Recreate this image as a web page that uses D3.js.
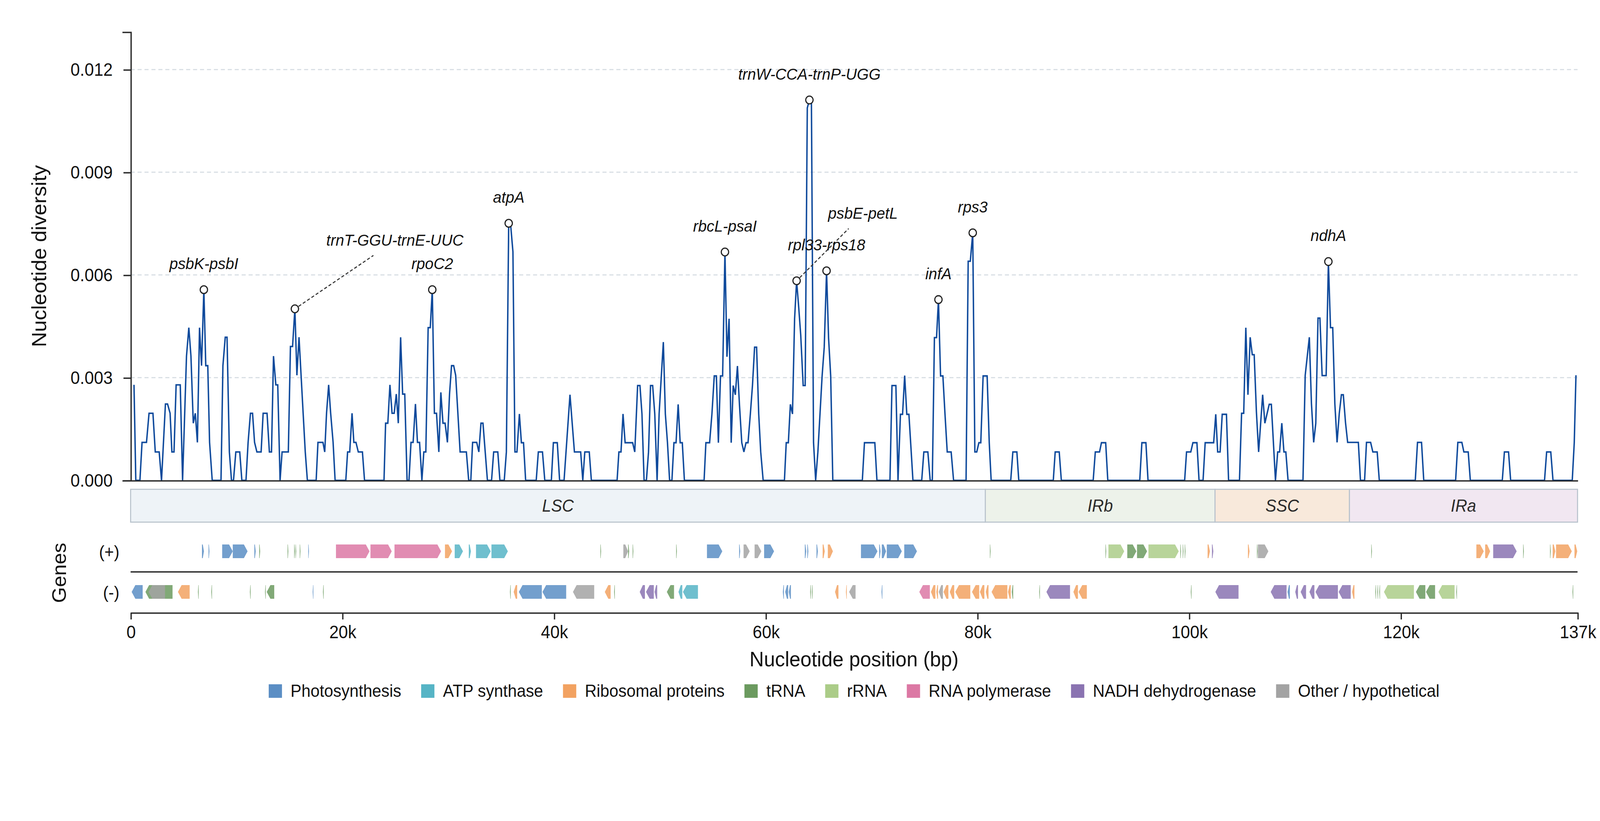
<!DOCTYPE html>
<html>
<head>
<meta charset="utf-8">
<script src="https://cdn.jsdelivr.net/npm/d3@7"></script>
<style>
  html, body { margin: 0; padding: 0; background: #fff; overflow: hidden; }
  svg { display: block; width: 100vw; height: 100vh; font-family: "Liberation Sans", Arial, sans-serif; }
</style>
</head>
<body>
<svg id="chart"></svg>
<script>
// Sliding-window nucleotide diversity: window position (kb) and Pi (x 1e-3)
const windowPos = [
  0.32, 0.49, 0.88, 1.08, 1.50, 1.74, 2.11, 2.33, 2.70, 2.92, 3.29, 3.49, 3.73, 3.90, 4.10, 4.30, 4.69, 4.91,
  5.28, 5.50, 5.70, 5.92, 6.11, 6.31, 6.51, 6.70, 6.92, 7.10, 7.29, 7.46, 7.71, 8.54, 8.72, 8.94, 9.11, 9.33,
  9.53, 9.72, 9.94, 10.31, 10.51, 10.90, 11.10, 11.32, 11.52, 11.71, 11.93, 12.33, 12.52, 12.89, 13.11, 13.31,
  13.50, 13.72, 13.90, 14.12, 14.31, 14.90, 15.10, 15.30, 15.52, 15.71, 15.91, 16.30, 16.50, 16.70, 17.53, 17.70,
  18.17, 18.34, 18.51, 18.71, 18.90, 19.13, 19.32, 20.33, 20.50, 20.70, 20.92, 21.09, 21.29, 21.51, 21.90, 22.10,
  23.94, 24.09, 24.30, 24.50, 24.70, 24.90, 25.10, 25.29, 25.51, 25.70, 25.90, 26.12, 26.30, 26.49, 26.69, 26.91,
  27.10, 27.30, 27.52, 27.70, 27.89, 28.11, 28.31, 28.50, 28.70, 28.90, 29.12, 29.31, 29.51, 29.71, 29.93, 30.13,
  30.32, 30.52, 30.71, 31.13, 31.72, 31.94, 32.14, 32.31, 32.70, 32.90, 33.10, 33.29, 33.71, 34.10, 34.30, 34.69,
  34.89, 35.30, 35.50, 35.72, 35.92, 36.12, 36.31, 36.50, 36.73, 36.92, 37.12, 37.32, 38.32, 38.52, 38.91, 39.13,
  39.75, 39.94, 40.31, 40.53, 40.95, 41.51, 41.93, 42.52, 42.72, 42.91, 43.33, 43.53, 45.96, 46.13, 46.33, 46.52,
  46.72, 47.43, 47.63, 47.90, 48.12, 48.31, 48.51, 48.73, 48.93, 49.12, 49.32, 49.52, 49.74, 49.93, 50.13, 50.33,
  50.52, 50.72, 50.92, 51.14, 51.33, 51.53, 51.73, 51.92, 52.12, 52.32, 54.18, 54.35, 54.70, 54.92, 55.14, 55.34,
  55.53, 55.73, 55.93, 56.15, 56.34, 56.54, 56.74, 56.93, 57.13, 57.33, 57.52, 57.74, 57.94, 58.14, 58.33, 58.55,
  58.75, 58.95, 59.14, 59.34, 59.53, 59.76, 61.77, 61.94, 62.14, 62.33, 62.53, 62.73, 62.92, 63.12, 63.31, 63.54,
  63.73, 63.93, 64.13, 64.32, 64.52, 64.72, 64.93, 65.33, 65.53, 65.75, 65.94, 66.14, 66.34, 69.13, 69.33, 70.31,
  70.51, 71.74, 71.93, 72.30, 72.50, 72.73, 72.93, 73.13, 73.33, 73.53, 73.73, 73.91, 74.74, 74.94, 75.32, 75.54,
  75.74, 75.94, 76.14, 76.32, 76.52, 76.74, 76.94, 77.15, 77.52, 77.75, 78.93, 79.13, 79.33, 79.56, 79.76, 79.94,
  80.14, 80.32, 80.54, 80.92, 81.12, 81.30, 83.15, 83.35, 83.73, 83.91, 87.17, 87.35, 87.73, 87.93, 90.94, 91.14,
  91.54, 91.72, 92.12, 92.32, 95.34, 95.54, 95.92, 96.12, 99.58, 99.76, 100.16, 100.36, 100.74, 100.94, 101.32, 101.52,
  102.32, 102.52, 102.70, 102.93, 103.13, 103.53, 103.73, 104.76, 104.96, 105.16, 105.36, 105.56, 105.77, 105.97, 106.15, 106.36,
  106.57, 106.95, 107.16, 107.57, 107.77, 108.16, 108.37, 108.55, 108.76, 108.96, 109.14, 109.35, 110.76, 110.97, 111.36, 111.56,
  111.77, 111.97, 112.18, 112.36, 112.57, 112.95, 113.16, 113.36, 113.57, 113.77, 113.98, 114.19, 114.39, 114.57, 114.78, 114.98,
  115.99, 116.19, 116.58, 116.76, 117.15, 117.36, 117.77, 117.97, 121.37, 121.58, 121.96, 122.17, 125.18, 125.39, 125.77, 125.96,
  126.37, 126.57, 129.59, 129.79, 130.18, 130.38, 133.58, 133.78, 134.17, 134.38, 136.20, 136.39, 136.55
];
const piValues = [
  2.79, 0, 0, 1.11, 1.11, 1.96, 1.96, 0.83, 0.83, 0, 2.23, 2.23, 1.96, 0.83, 0.83, 2.79, 2.79, 0,
  3.63, 4.46, 3.63, 1.67, 1.96, 1.11, 4.46, 3.35, 5.57, 3.35, 3.35, 1.11, 0, 0, 3.35, 4.18, 4.18, 0.83,
  0, 0, 0.83, 0.83, 0, 0, 1.11, 1.96, 1.96, 1.11, 0.83, 0.83, 1.96, 1.96, 0.83, 0.83,
  3.63, 2.79, 2.79, 0, 0.83, 0.83, 3.91, 3.91, 5.01, 3.07, 4.18, 1.96, 0.83, 0, 0, 1.11,
  1.11, 0.83, 1.96, 2.79, 1.96, 1.11, 0, 0, 0.83, 0.83, 1.96, 1.11, 1.11, 0.83, 0.83, 0,
  0, 1.67, 1.67, 2.79, 1.96, 1.96, 2.52, 1.67, 4.18, 2.52, 2.52, 0, 0, 1.11, 1.11, 2.23,
  1.11, 1.11, 0, 0.83, 0.83, 4.46, 4.46, 5.57, 1.96, 1.96, 0.83, 2.57, 1.67, 1.67, 1.11, 2.52,
  3.35, 3.35, 3.07, 0.83, 0.83, 0, 0, 1.11, 1.11, 0.83, 1.67, 1.67, 0, 0, 0.83, 0.83,
  0, 0, 0.83, 7.51, 7.40, 6.68, 0.83, 0.83, 1.94, 1.10, 1.10, 0, 0, 0.83, 0.83, 0,
  0, 1.10, 1.10, 0, 0, 2.50, 0.83, 0.83, 0, 0.83, 0.83, 0, 0, 0.83, 0.83, 1.94,
  1.10, 1.10, 0.83, 2.77, 2.77, 1.94, 0, 0, 0.83, 2.77, 2.77, 1.94, 0, 1.94, 3.00, 4.04,
  1.94, 1.10, 0, 0, 1.10, 1.10, 2.22, 1.10, 1.10, 0, 0, 1.10, 1.10, 1.94, 3.05, 3.05,
  1.10, 3.05, 3.05, 6.67, 3.61, 4.72, 1.10, 2.77, 2.50, 3.34, 2.22, 1.10, 0.83, 1.10, 1.10, 1.94,
  2.77, 3.89, 3.89, 1.94, 0.83, 0, 0, 1.10, 1.10, 2.22, 1.94, 4.72, 5.83, 5.05, 4.24, 2.77,
  2.77, 10.88, 11.11, 11.05, 1.10, 0, 0.83, 3.05, 3.89, 6.12, 4.16, 3.05, 0, 0, 1.10, 1.10,
  0, 0, 2.77, 2.77, 0, 1.93, 1.93, 3.06, 1.93, 1.93, 0.92, 0, 0, 0.83, 0.83, 0,
  0, 4.17, 4.17, 5.28, 3.05, 3.05, 1.93, 0.83, 0.83, 0, 0, 6.40, 6.40, 7.23, 0.83, 0.83,
  1.10, 1.10, 3.05, 3.05, 1.10, 0, 0, 0.83, 0.83, 0, 0, 0.83, 0.83, 0, 0, 0.83,
  0.83, 1.10, 1.10, 0, 0, 1.10, 1.10, 0, 0, 0.83, 0.83, 1.10, 1.10, 0, 0, 1.10,
  1.10, 1.93, 0.83, 0.83, 1.93, 1.93, 0, 0, 1.96, 1.96, 4.46, 2.50, 4.18, 3.67, 3.67, 2.00,
  0.83, 2.50, 1.67, 2.22, 2.22, 0, 0.83, 0.83, 1.67, 0.83, 0.83, 0, 0, 3.07, 4.18, 2.24,
  1.11, 1.67, 4.74, 4.74, 3.06, 3.06, 6.39, 4.46, 4.46, 2.24, 1.11, 1.96, 2.50, 2.50, 1.68, 1.11,
  1.11, 0, 0, 1.11, 1.11, 0.83, 0.83, 0, 0, 1.11, 1.11, 0, 0, 1.11, 1.11, 0.83,
  0.83, 0, 0, 0.83, 0.83, 0, 0, 0.83, 0.83, 0, 0, 1.11, 3.07
];

// Highlighted hotspots (kb)
const peakLabels = ['psbK-psbI', 'trnT-GGU-trnE-UUC', 'rpoC2', 'atpA', 'rbcL-psaI', 'psbE-petL',
  'trnW-CCA-trnP-UGG', 'rpl33-rps18', 'infA', 'rps3', 'ndhA'];
const peakPos = [6.92, 15.52, 28.50, 35.72, 56.15, 62.92, 64.13, 65.75, 76.32, 79.56, 113.16];

// Genome regions (bp)
const regionNames = ['LSC', 'IRb', 'SSC', 'IRa'];
const regionBounds = [0, 80750, 102450, 115150, 136700];

// Axis ticks
const xTickValues = [0, 20000, 40000, 60000, 80000, 100000, 120000, 136700];
const xTickLabels = ['0', '20k', '40k', '60k', '80k', '100k', '120k', '137k'];
const yTickValues = [0, 0.003, 0.006, 0.009, 0.012];

// Gene categories
const catKeys = ['photo', 'atp', 'ribo', 'trna', 'rrna', 'rpo', 'ndh', 'other'];
const catLabels = ['Photosynthesis', 'ATP synthase', 'Ribosomal proteins', 'tRNA', 'rRNA',
  'RNA polymerase', 'NADH dehydrogenase', 'Other / hypothetical'];

// Genes on the (+) strand: [start kb, end kb, category]
const plusGenes = [
  [6.74, 6.93, 'photo'], [7.36, 7.45, 'photo'], [8.65, 9.65, 'photo'], [9.65, 11.05, 'photo'],
  [11.69, 11.82, 'photo'], [12.15, 12.24, 'trna'], [14.83, 14.90, 'trna'], [15.45, 15.52, 'trna'],
  [15.58, 15.64, 'trna'], [15.98, 16.04, 'trna'], [16.78, 16.84, 'photo'], [19.40, 22.57, 'rpo'],
  [22.66, 24.67, 'rpo'], [24.93, 29.33, 'rpo'], [29.70, 30.37, 'ribo'], [30.62, 31.40, 'atp'],
  [31.95, 32.15, 'atp'], [32.63, 34.02, 'atp'], [34.09, 35.64, 'atp'], [44.38, 44.44, 'trna'],
  [46.55, 47.00, 'other'], [47.00, 47.10, 'trna'], [47.43, 47.49, 'trna'], [51.54, 51.60, 'trna'],
  [54.45, 55.90, 'photo'], [57.49, 57.59, 'photo'], [57.91, 58.49, 'other'], [58.95, 59.59, 'other'],
  [59.85, 60.79, 'photo'], [63.70, 63.83, 'photo'], [63.93, 64.03, 'photo'], [64.80, 64.93, 'photo'],
  [65.38, 65.58, 'ribo'], [65.87, 66.35, 'ribo'], [69.00, 70.56, 'photo'], [70.72, 70.85, 'photo'],
  [70.97, 71.37, 'photo'], [71.44, 72.86, 'photo'], [73.09, 74.29, 'photo'], [81.18, 81.24, 'trna'],
  [92.10, 92.16, 'trna'], [92.38, 93.87, 'rrna'], [94.16, 95.02, 'trna'], [95.08, 96.03, 'trna'],
  [96.16, 99.02, 'rrna'], [99.17, 99.23, 'trna'], [99.40, 99.46, 'trna'], [99.59, 99.65, 'trna'],
  [101.75, 101.97, 'ribo'], [102.16, 102.29, 'ndh'], [105.56, 105.71, 'ribo'], [106.41, 106.47, 'trna'],
  [106.50, 107.49, 'other'], [117.21, 117.27, 'trna'], [127.14, 127.84, 'ribo'], [127.97, 128.44, 'ribo'],
  [128.73, 130.95, 'ndh'], [131.56, 131.62, 'trna'], [134.10, 134.16, 'trna'], [134.35, 134.60, 'ribo'],
  [134.67, 136.16, 'ribo'], [136.41, 136.67, 'ribo']
];

// Genes on the (-) strand: [start kb, end kb, category]
const minusGenes = [
  [0.10, 1.14, 'photo'], [1.40, 3.96, 'trna'], [1.70, 3.25, 'other'], [4.47, 5.58, 'ribo'],
  [6.36, 6.41, 'trna'], [7.62, 7.68, 'trna'], [11.27, 11.33, 'trna'], [12.70, 12.76, 'trna'],
  [12.86, 13.57, 'trna'], [17.20, 17.26, 'photo'], [18.17, 18.23, 'trna'], [35.84, 35.90, 'trna'],
  [36.19, 36.52, 'ribo'], [36.68, 38.85, 'photo'], [38.91, 41.15, 'photo'], [41.79, 43.80, 'other'],
  [44.80, 45.35, 'ribo'], [45.68, 45.74, 'trna'], [48.10, 48.59, 'ndh'], [48.69, 49.43, 'ndh'],
  [49.50, 49.75, 'ndh'], [50.66, 51.34, 'trna'], [51.76, 52.12, 'atp'], [52.18, 53.60, 'atp'],
  [61.62, 61.72, 'photo'], [61.84, 62.12, 'photo'], [62.18, 62.38, 'photo'], [64.20, 64.26, 'trna'],
  [64.36, 64.42, 'trna'], [66.55, 66.87, 'ribo'], [67.58, 67.66, 'ribo'], [67.88, 68.49, 'other'],
  [70.94, 71.02, 'photo'], [74.51, 75.51, 'rpo'], [75.61, 76.03, 'ribo'], [76.12, 76.28, 'ribo'],
  [76.35, 76.74, 'other'], [76.80, 77.26, 'ribo'], [77.39, 77.81, 'ribo'], [77.91, 79.33, 'ribo'],
  [79.49, 80.17, 'ribo'], [80.24, 80.66, 'ribo'], [80.79, 81.05, 'ribo'], [81.34, 82.83, 'ribo'],
  [82.89, 83.15, 'ribo'], [83.25, 83.38, 'trna'], [85.84, 85.90, 'trna'], [86.52, 88.75, 'ndh'],
  [89.07, 89.50, 'ribo'], [89.56, 90.34, 'ribo'], [100.16, 100.22, 'trna'], [102.48, 104.67, 'ndh'],
  [107.71, 109.21, 'ndh'], [109.30, 109.52, 'photo'], [110.03, 110.29, 'ndh'], [110.54, 111.05, 'ndh'],
  [111.37, 111.84, 'ndh'], [111.94, 114.06, 'ndh'], [114.13, 115.27, 'ndh'], [115.40, 115.62, 'ribo'],
  [117.59, 117.65, 'trna'], [117.78, 117.84, 'trna'], [117.97, 118.03, 'trna'], [118.41, 121.24, 'rrna'],
  [121.43, 122.32, 'trna'], [122.38, 123.24, 'trna'], [123.56, 125.08, 'rrna'], [125.24, 125.30, 'trna'],
  [136.22, 136.28, 'trna']
];

// ---- styling / layout (viewBox units, stretched to fill the window) ----
const W = 1568, H = 762.6;
const catColors = ['#5b8ec4', '#56b4c5', '#f2a261', '#6b9a5f', '#abcc88', '#dc78a4', '#8a73b1', '#a3a3a3'];
const regionFill = ['#eef3f7', '#edf2ea', '#f8e9db', '#f1e7f1'];
const colorOf = d3.scaleOrdinal().domain(catKeys).range(catColors);

const left = 128, right = 1546;
const plotTop = 29.6, plotBottom = 446.2;
const regionY = 454.5, regionH = 30.5;
const plusY = 505.7, minusY = 543.5, geneH = 12.7;
const sepY = 531.2, axisY = 569;

// label nudges for the two displaced annotations
const labelNudge = { 'trnT-GGU-trnE-UUC': [98, -39.6], 'psbE-petL': [65, -38.5] };

const svg = d3.select('#chart')
  .attr('viewBox', `0 0 ${W} ${H}`)
  .attr('preserveAspectRatio', 'none');

svg.append('rect').attr('width', W).attr('height', H).attr('fill', '#fff');

const x = d3.scaleLinear().domain([0, regionBounds[4]]).range([left, right]);
const y = d3.scaleLinear().domain([0, 0.0131]).range([plotBottom, plotTop]);

const series = windowPos.map((p, i) => ({ pos: p * 1000, pi: piValues[i] / 1000 }));

// Gridlines
svg.append('g')
  .selectAll('line')
  .data(yTickValues.slice(1))
  .enter()
  .append('line')
  .attr('x1', left).attr('x2', right)
  .attr('y1', d => y(d)).attr('y2', d => y(d))
  .attr('stroke', '#d5dce2')
  .attr('stroke-width', 1)
  .attr('stroke-dasharray', '4,2.8');

// Diversity line
svg.append('path')
  .datum(series)
  .attr('fill', 'none')
  .attr('stroke', '#0f4a9c')
  .attr('stroke-width', 1.4)
  .attr('d', d3.line().x(d => x(d.pos)).y(d => y(d.pi)));

// Baseline of the top panel
svg.append('g')
  .attr('transform', `translate(0,${plotBottom})`)
  .call(d3.axisBottom(x).tickValues([]).tickSizeOuter(0))
  .call(g => g.select('.domain').attr('stroke', '#2b2b2b').attr('stroke-width', 1.3));

// Y axis
const yAxis = svg.append('g')
  .attr('transform', `translate(${left},0)`)
  .call(d3.axisLeft(y).tickValues(yTickValues).tickFormat(d3.format('.3f'))
    .tickSize(7).tickSizeOuter(8).tickPadding(10.6));
yAxis.select('.domain').attr('stroke', '#2b2b2b').attr('stroke-width', 1.3);
yAxis.selectAll('.tick line').attr('stroke', '#2b2b2b').attr('stroke-width', 1.3);
yAxis.selectAll('.tick text').attr('font-size', 16.5).attr('fill', '#111')
  .attr('font-family', '"Liberation Sans", Arial, sans-serif');

svg.append('text')
  .attr('transform', `translate(45,${(plotTop + plotBottom) / 2}) rotate(-90)`)
  .attr('text-anchor', 'middle')
  .attr('font-size', 19.5)
  .attr('fill', '#111')
  .text('Nucleotide diversity');

// Hotspot markers and labels
const peaks = peakLabels.map((name, i) => {
  const idx = windowPos.indexOf(peakPos[i]);
  return { name, pos: peakPos[i] * 1000, pi: piValues[idx] / 1000 };
});

peaks.forEach(p => {
  const cx = x(p.pos), cy = y(p.pi);
  const nudge = labelNudge[p.name];
  const lx = cx + (nudge ? nudge[0] : 0);
  const ly = cy - 19 + (nudge ? nudge[1] : 0);
  if (nudge) {
    const ex = lx - nudge[0] * 0.215, ey = ly + 9;
    const ang = Math.atan2(ey - cy, ex - cx);
    svg.append('line')
      .attr('x1', cx + Math.cos(ang) * 4.3).attr('y1', cy + Math.sin(ang) * 4.3)
      .attr('x2', ex).attr('y2', ey)
      .attr('stroke', '#333').attr('stroke-width', 1)
      .attr('stroke-dasharray', '3,2');
  }
  svg.append('text')
    .attr('x', lx).attr('y', ly)
    .attr('text-anchor', 'middle')
    .attr('font-size', 15)
    .attr('font-style', 'italic')
    .attr('fill', '#111')
    .text(p.name);
});

svg.append('g')
  .selectAll('circle')
  .data(peaks)
  .enter()
  .append('circle')
  .attr('cx', d => x(d.pos))
  .attr('cy', d => y(d.pi))
  .attr('r', 3.6)
  .attr('fill', '#fff')
  .attr('stroke', '#222')
  .attr('stroke-width', 1.1);

// Region bar
const regions = regionNames.map((n, i) => ({ name: n, start: regionBounds[i], end: regionBounds[i + 1], fill: regionFill[i] }));
const rg = svg.append('g');
rg.selectAll('rect')
  .data(regions)
  .enter()
  .append('rect')
  .attr('x', d => x(d.start))
  .attr('y', regionY)
  .attr('width', d => x(d.end) - x(d.start))
  .attr('height', regionH)
  .attr('fill', d => d.fill)
  .attr('stroke', '#b8c2cc')
  .attr('stroke-width', 1);
rg.selectAll('text')
  .data(regions)
  .enter()
  .append('text')
  .attr('x', d => x((d.start + d.end) / 2))
  .attr('y', regionY + regionH / 2 + 5.5)
  .attr('text-anchor', 'middle')
  .attr('font-size', 16)
  .attr('font-style', 'italic')
  .attr('fill', '#2a2a2a')
  .text(d => d.name);

// Gene tracks
function geneShape(d, strand, y0) {
  const x0 = x(d[0] * 1000);
  let x1 = x(d[1] * 1000);
  if (x1 - x0 < 0.7) x1 = x0 + 0.7;
  const w = x1 - x0, tip = Math.min(3.6, w * 0.6), ym = y0 + geneH / 2, yb = y0 + geneH;
  if (strand > 0) {
    return `M${x0},${y0}L${x1 - tip},${y0}L${x1},${ym}L${x1 - tip},${yb}L${x0},${yb}Z`;
  }
  return `M${x1},${y0}L${x0 + tip},${y0}L${x0},${ym}L${x0 + tip},${yb}L${x1},${yb}Z`;
}

svg.append('g')
  .selectAll('path')
  .data(plusGenes)
  .enter()
  .append('path')
  .attr('d', d => geneShape(d, 1, plusY))
  .attr('fill', d => colorOf(d[2]))
  .attr('fill-opacity', 0.85);

svg.append('g')
  .selectAll('path')
  .data(minusGenes)
  .enter()
  .append('path')
  .attr('d', d => geneShape(d, -1, minusY))
  .attr('fill', d => colorOf(d[2]))
  .attr('fill-opacity', 0.85);

svg.append('line')
  .attr('x1', left).attr('x2', right)
  .attr('y1', sepY).attr('y2', sepY)
  .attr('stroke', '#2b2b2b').attr('stroke-width', 1.3);

svg.append('text').attr('x', 117).attr('y', plusY + geneH / 2 + 6)
  .attr('text-anchor', 'end').attr('font-size', 16).attr('fill', '#111').text('(+)');
svg.append('text').attr('x', 117).attr('y', minusY + geneH / 2 + 6)
  .attr('text-anchor', 'end').attr('font-size', 16).attr('fill', '#111').text('(-)');

svg.append('text')
  .attr('transform', `translate(64.8,532.1) rotate(-90)`)
  .attr('text-anchor', 'middle')
  .attr('font-size', 19)
  .attr('fill', '#111')
  .text('Genes');

// Bottom x axis
const xAxis = svg.append('g')
  .attr('transform', `translate(0,${axisY})`)
  .call(d3.axisBottom(x).tickValues(xTickValues)
    .tickFormat((d, i) => xTickLabels[i]).tickSize(6.4).tickSizeOuter(0).tickPadding(5.6));
xAxis.select('.domain').attr('stroke', '#2b2b2b').attr('stroke-width', 1.3);
xAxis.selectAll('.tick line').attr('stroke', '#2b2b2b').attr('stroke-width', 1.3);
xAxis.selectAll('.tick text').attr('font-size', 16.5).attr('fill', '#111')
  .attr('font-family', '"Liberation Sans", Arial, sans-serif');

svg.append('text')
  .attr('x', (left + right) / 2)
  .attr('y', 619)
  .attr('text-anchor', 'middle')
  .attr('font-size', 19.5)
  .attr('fill', '#111')
  .text('Nucleotide position (bp)');

// Legend
const legend = svg.append('g');
const items = legend.selectAll('g')
  .data(catKeys)
  .enter()
  .append('g');
items.append('rect')
  .attr('width', 13).attr('height', 12.6)
  .attr('y', 635.6)
  .attr('fill', (d, i) => catColors[i]);
items.append('text')
  .attr('x', 21.4)
  .attr('y', 647.2)
  .attr('font-size', 16)
  .attr('fill', '#111')
  .text((d, i) => catLabels[i]);

let offset = 0;
const offsets = [];
items.each(function () {
  offsets.push(offset);
  const tw = d3.select(this).select('text').node().getComputedTextLength();
  offset += 21.4 + tw + 19.5;
});
const total = offset - 19.5;
const startX = (left + right) / 2 - total / 2;
items.attr('transform', (d, i) => `translate(${startX + offsets[i]},0)`);
</script>
</body>
</html>
